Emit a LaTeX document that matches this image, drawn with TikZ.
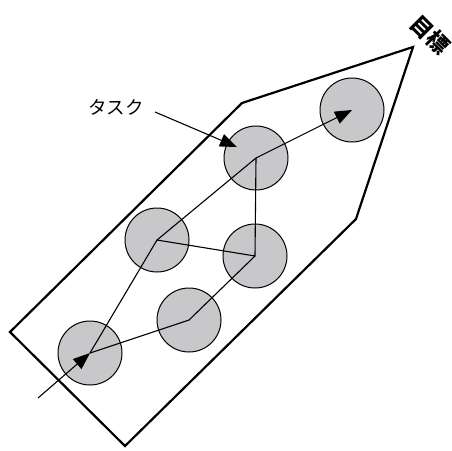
\documentclass[tikz,border=0pt]{standalone}
\usepackage{fontspec}
\newfontfamily\jp{Noto Sans CJK JP}
\usetikzlibrary{arrows.meta}
\begin{document}
\begin{tikzpicture}[x=1pt,y=-1pt,
  task/.style={circle,draw=black,line width=1pt,fill=taskgray,minimum size=64pt,inner sep=0pt},
  link/.style={line width=1.1pt},
  arr/.style={line width=1.1pt,-{Triangle[length=17pt,width=13pt]}},
  boundary/.style={line width=2.2pt,line join=miter}]
\definecolor{taskgray}{RGB}{200,200,203}
\useasboundingbox (0,0) rectangle (452,450);
% boundary
\draw[boundary] (10,332) -- (242,103) -- (413,47) -- (356,219) -- (125,446) -- cycle;
% tasks
\node[task] (c1) at (90,353) {};
\node[task] (c2) at (189,320) {};
\node[task] (c3) at (157,240) {};
\node[task] (c4) at (255,256) {};
\node[task] (c5) at (256,158) {};
\node[task] (c6) at (352,110) {};
% connectors
\coordinate (start) at (38,398);
\draw[arr] (start) -- (c1.center);
\draw[link] (c1.center) -- (c2.center) -- (c4.center) -- (c5.center);
\draw[link] (c1.center) -- (c3.center) -- (c4.center);
\draw[link] (c3.center) -- (c5.center);
\draw[arr] (c5.center) -- (c6.center);
% labels
\node[font=\jp\fontsize{18.5}{18.5}\selectfont,inner sep=0pt] (lbl) at (116,107) {タスク};
\coordinate (lblstart) at (155,112);
\draw[arr] (lblstart) -- (237,147);
\node[font=\jp\bfseries\fontsize{22}{22}\selectfont,rotate=-45,inner sep=0pt] (goal) at (430,35) {目標};
\end{tikzpicture}
\end{document}
